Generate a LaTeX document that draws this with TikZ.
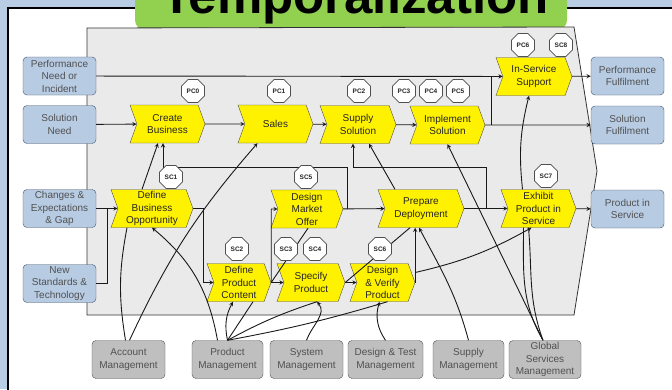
\documentclass[tikz,border=0pt]{standalone}
\usepackage{fontspec}
\setmainfont{Liberation Sans}
\usepackage{tikz}
\usetikzlibrary{positioning}
\usetikzlibrary{shapes.symbols,shapes.geometric}
\definecolor{slideblue}{HTML}{B8CCE4}
\definecolor{titlegreen}{HTML}{92D050}
\definecolor{panelgray}{HTML}{EAEAEA}
\definecolor{boxblue}{HTML}{B7CBE3}
\definecolor{boxblueline}{HTML}{44546A}
\definecolor{mgmtgray}{HTML}{BFBFBF}
\definecolor{darkline}{HTML}{505050}
\definecolor{txt}{HTML}{262626}
\tikzset{%
  flow/.style = {-stealth,line width=0.9pt,draw=black!90},
  plain/.style = {line width=0.9pt,draw=black!90},
  chev/.style = {signal,signal from=west,signal to=east,
        signal pointer angle=140,draw=darkline,fill=yellow,
        minimum height=38pt,inner sep=0pt,align=center,
        text=txt,font=\fontsize{10}{12.5}\selectfont},
  inbox/.style = {rectangle,rounded corners=4pt,draw=boxblueline,
        fill=boxblue,minimum width=73pt,minimum height=38pt,
        inner sep=0pt,align=center,text=txt!80,
        font=\fontsize{10}{12.5}\selectfont},
  mgmt/.style = {rectangle,rounded corners=4pt,draw=darkline,
        fill=mgmtgray,minimum width=73pt,minimum height=38pt,
        inner sep=0pt,align=center,text=txt!80,
        font=\fontsize{10}{12.5}\selectfont},
  oct/.style = {regular polygon,regular polygon sides=8,
        minimum size=25pt,inner sep=0.5pt,draw=darkline,fill=white,
        line width=0.7pt,text=txt,font=\fontsize{6.5}{7}\selectfont\bfseries}
}
\begin{document}
\begin{tikzpicture}[x=1pt,y=-1pt]
\useasboundingbox (0,0) rectangle (672,389);
\clip (0,0) rectangle (672,389);
% slide and title
\fill[slideblue] (0,0) rectangle (672,389);
\draw[fill=white,line width=1.2pt] (8,8) rectangle (690,400);
\fill[titlegreen,rounded corners=10pt] (135,-20) rectangle (567,30);
\node[anchor=base,font=\fontsize{51}{56}\selectfont\bfseries] (title)
    at (355,13) {Temporalization};
% process frame
\draw[fill=panelgray,draw=black!80,line width=0.8pt]
    (87,28) -- (574,27) -- (597,171) -- (574,315) -- (87,315) -- cycle;

% inputs
\node[inbox] (pneed) at (59.5,76) {Performance\\Need or\\Incident};
\node[inbox] (sneed) at (59.5,124.5) {Solution\\Need};
\node[inbox] (change) at (59.5,208.5) {Changes \&\\Expectations\\\& Gap};
\node[inbox] (newstd) at (59.5,283.5) {New\\Standards \&\\Technology};
% outputs
\node[inbox] (pfulfil) at (627.5,76) {Performance\\Fulfilment};
\node[inbox] (sfulfil) at (627.5,125) {Solution\\Fulfilment};
\node[inbox] (pservice) at (627.5,209) {Product in\\Service};

% processes
\node[chev,minimum width=75pt] (create) at (167.5,124) {Create\\Business};
\node[chev,minimum width=75pt] (sales) at (275.5,124) {Sales};
\node[chev,minimum width=76pt] (supply) at (358,124.5) {Supply\\Solution};
\node[chev,minimum width=75pt] (implement) at (447.5,125) {Implement\\Solution};
\node[chev,minimum width=76pt] (insupp) at (534,76.5) {In-Service\\Support};
\node[chev,minimum width=82pt] (dbo) at (152,208.5) {Define\\Business\\Opportunity};
\node[chev,minimum width=72pt] (dmo) at (307,209) {Design\\Market\\Offer};
\node[chev,minimum width=86pt] (prepare) at (421,208.5) {Prepare\\Deployment};
\node[chev,minimum width=75pt] (exhibit) at (538.5,208.5) {Exhibit\\Product in\\Service};
\node[chev,minimum width=64pt] (dpc) at (239,282.5) {Define\\Product\\Content};
\node[chev,minimum width=68pt] (specify) at (311,282.5) {Specify\\Product};
\node[chev,minimum width=65pt] (dverify) at (382.5,282.5) {Design\\\& Verify\\Product};

% organisations
\node[mgmt] (acct) at (128.5,359.5) {Account\\Management};
\node[mgmt,minimum width=71pt] (pmgmt) at (227.5,359.5) {Product\\Management};
\node[mgmt] (smgmt) at (306.5,359.5) {System\\Management};
\node[mgmt,minimum width=75pt] (dtest) at (385.5,359.5) {Design \& Test\\Management};
\node[mgmt,minimum width=71pt] (supmgmt) at (468.5,359.5) {Supply\\Management};
\node[mgmt,minimum width=72pt] (global) at (545,359.5) {Global\\Services\\Management};

% junctions
\coordinate (jstd) at (107,208.5);
\coordinate (jimpl) at (491,125);
\coordinate (jdmo) at (347,209);
\coordinate (jcb) at (163,167);
\coordinate (jprep) at (486,208.5);
\coordinate (jss) at (353,167);
\coordinate (jdbo) at (203,208.5);

% main flow
\draw[flow] (pneed) -- (insupp);
\draw[flow] (sneed) -- (create);
\draw[flow] (create) -- (sales);
\draw[flow] (sales) -- (supply);
\draw[flow] (supply) -- (implement);
\draw[flow] (implement) -- (sfulfil);
\draw[plain] (jimpl) -- (jimpl |- insupp);
\draw[flow] (insupp) -- (pfulfil);
\draw[flow] (change) -- (dbo);
\draw[plain] (newstd) -| (jstd);
\draw[flow] ([xshift=-10pt]dbo.north) -- ([xshift=-9.5pt]create.south);
\draw[flow] (dmo) -- (prepare);
\draw[flow] (jdmo) |- (jcb) -- (jcb |- create.south);
\draw[flow] (prepare) -- (exhibit);
\draw[flow] (jprep) |- (jss) -- (jss |- supply.south);
\draw[flow] ([xshift=-26pt]prepare.north) -- ([xshift=11pt]supply.south);
\draw[flow] ([xshift=-16pt]exhibit.north) to[bend left=10] ([xshift=-5pt]insupp.south);
\draw[flow] (exhibit) -- (pservice);
\draw[flow] (dbo.east) -- (jdbo) |- (dpc);
\draw[flow] (dpc.east) -- (dpc.east |- dmo) -- (dmo);
\draw[plain] (dpc.east) -- ([xshift=1pt]dmo.south);
\draw[flow] (dpc) -- (specify);
\draw[flow] (specify) -- (dverify);
\draw[plain] (specify.east) -- ([xshift=-11pt]prepare.south);
\draw[flow] (dverify.east) -- (dverify.east |- prepare.south);
\draw[flow] ([yshift=10pt]dverify.east) to[bend right=8] ([xshift=-7pt]exhibit.south);

% organisations to processes
\draw[plain] ([xshift=-3pt]acct.north) to[bend left=10] ([xshift=-25pt]dbo.south);
\draw[flow] ([xshift=1pt]acct.north) to[bend left=8] ([xshift=-18pt]sales.south);
\draw[flow] ([xshift=-10pt]pmgmt.north) to[bend right=20] (dbo.south);
\draw[flow] (pmgmt.north) to[bend left=20] ([xshift=-6pt]dpc.south);
\draw[plain] (pmgmt.north) -- ([xshift=14pt]dpc.south);
\draw[plain] (pmgmt.north) to[bend left=5] ([xshift=6pt]specify.south);
\draw[plain] (pmgmt.north) to[bend right=3] ([xshift=5pt]dverify.south);
\draw[flow] (smgmt.north) to[out=70,in=-50] ([xshift=6pt]specify.south);
\draw[flow] (dtest.north) to[bend left=25] ([xshift=-3pt]dverify.south);
\draw[flow] (supmgmt.north) to[out=105,in=-62] ([xshift=-2pt]prepare.south);
\draw[flow] ([xshift=-2pt]global.north) -- (implement.south);
\draw[plain] ([xshift=-2pt]global.north) to[out=120,in=-90] ([xshift=-15pt]exhibit.south);
\draw[plain] ([xshift=-2pt]global.north) to[out=110,in=-85] ([xshift=-10pt]exhibit.south);

% checkpoints
\node[oct] (pc0) at (193,91) {PC0};
\node[oct] (pc1) at (279,91) {PC1};
\node[oct] (pc2) at (359,91) {PC2};
\node[oct] (pc3) at (404,91) {PC3};
\node[oct] (pc4) at (431,91) {PC4};
\node[oct] (pc5) at (458,91) {PC5};
\node[oct] (pc6) at (523,45) {PC6};
\node[oct] (sc8) at (561,45) {SC8};
\node[oct] (sc1) at (171,177) {SC1};
\node[oct] (sc5) at (306,177) {SC5};
\node[oct] (sc7) at (546,176) {SC7};
\node[oct] (sc2) at (237,249) {SC2};
\node[oct] (sc3) at (286,249) {SC3};
\node[oct] (sc4) at (315,249) {SC4};
\node[oct] (sc6) at (380,249) {SC6};
\end{tikzpicture}
\end{document}
